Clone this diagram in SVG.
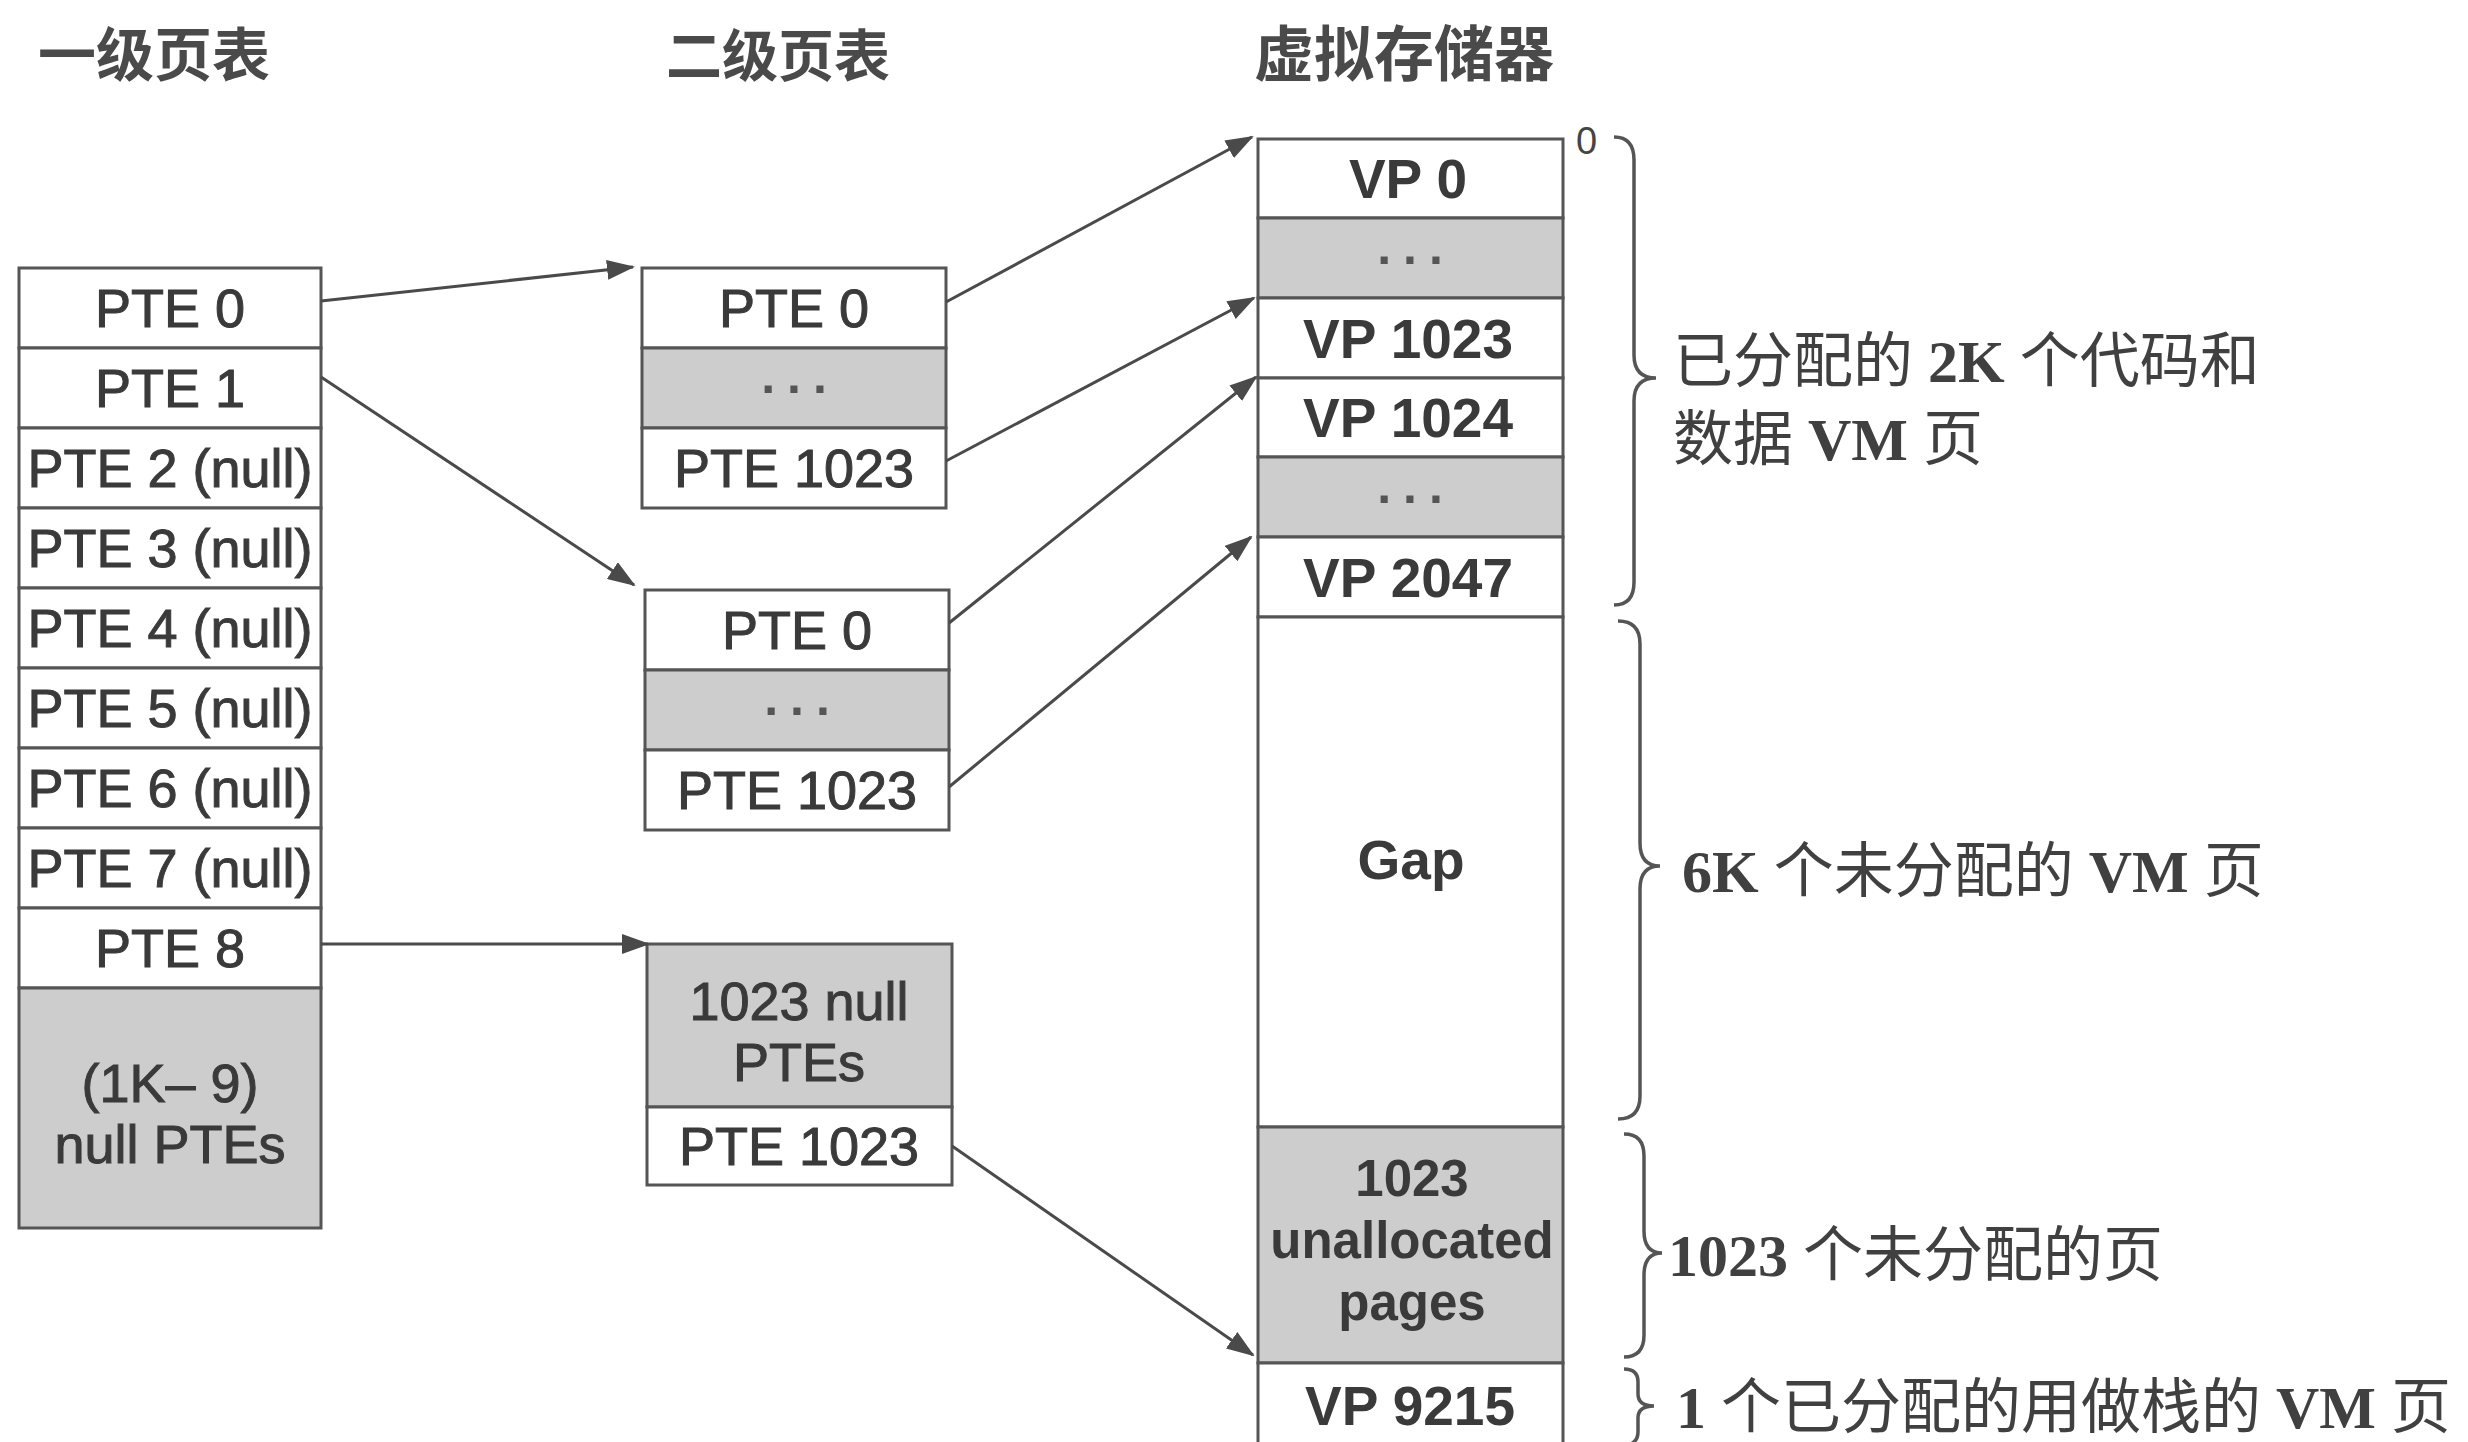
<svg xmlns="http://www.w3.org/2000/svg" width="2468" height="1442" viewBox="0 0 2468 1442">
<style>
  .cell { fill: #ffffff; stroke: #555555; stroke-width: 3; }
  .gray { fill: #cdcdcd; stroke: #555555; stroke-width: 3; }
  .pte { font-family: "Liberation Sans", Arial, sans-serif; font-size: 54px; fill: #3a3a3a; stroke: #3a3a3a; stroke-width: 1; text-anchor: middle; }
  .vp { font-family: "Liberation Sans", Arial, sans-serif; font-size: 55px; font-weight: bold; fill: #3a3a3a; text-anchor: middle; }
  .vps { font-size: 51px; }
  .dots { font-family: "Liberation Sans", Arial, sans-serif; font-size: 50px; font-weight: bold; fill: #555555; text-anchor: middle; letter-spacing: 12px; }
  .title { font-family: "Noto Sans CJK SC", sans-serif; font-weight: bold; fill: #4a4a4a; }
  .note { font-family: "Liberation Serif", "Noto Sans CJK SC", serif; font-size: 60px; fill: #404040; }
  .lat { font-weight: bold; }
  .addr { font-family: "Liberation Sans", Arial, sans-serif; font-size: 38px; fill: #444444; }
  .brace { fill: none; stroke: #555555; stroke-width: 3.5; }
  .conn { stroke: #4a4a4a; stroke-width: 3; fill: none; marker-end: url(#arrow); }
</style>
<defs>
  <marker id="arrow" markerUnits="userSpaceOnUse" markerWidth="28" markerHeight="20" refX="26" refY="10" orient="auto">
    <path d="M0,0 L28,10 L0,20 z" fill="#4a4a4a"/>
  </marker>
</defs>
<rect x="0" y="0" width="2468" height="1442" fill="#ffffff"/>

<g id="titles">
  <text class="title" x="38" y="76" style="font-size:58px">一级页表</text>
  <text class="title" x="666" y="76" style="font-size:56px">二级页表</text>
  <text class="title" x="1254" y="76" style="font-size:60px">虚拟存储器</text>
</g>

<g id="level1-table">
  <g id="l1-pte0"><rect class="cell" x="19" y="268" width="302" height="80"/><text class="pte" x="170" y="327">PTE 0</text></g>
  <g id="l1-pte1"><rect class="cell" x="19" y="348" width="302" height="80"/><text class="pte" x="170" y="407">PTE 1</text></g>
  <g id="l1-pte2"><rect class="cell" x="19" y="428" width="302" height="80"/><text class="pte" x="170" y="487">PTE 2 (null)</text></g>
  <g id="l1-pte3"><rect class="cell" x="19" y="508" width="302" height="80"/><text class="pte" x="170" y="567">PTE 3 (null)</text></g>
  <g id="l1-pte4"><rect class="cell" x="19" y="588" width="302" height="80"/><text class="pte" x="170" y="647">PTE 4 (null)</text></g>
  <g id="l1-pte5"><rect class="cell" x="19" y="668" width="302" height="80"/><text class="pte" x="170" y="727">PTE 5 (null)</text></g>
  <g id="l1-pte6"><rect class="cell" x="19" y="748" width="302" height="80"/><text class="pte" x="170" y="807">PTE 6 (null)</text></g>
  <g id="l1-pte7"><rect class="cell" x="19" y="828" width="302" height="80"/><text class="pte" x="170" y="887">PTE 7 (null)</text></g>
  <g id="l1-pte8"><rect class="cell" x="19" y="908" width="302" height="80"/><text class="pte" x="170" y="967">PTE 8</text></g>
  <g id="l1-null"><rect class="gray" x="19" y="988" width="302" height="240"/><text class="pte" x="170" y="1102">(1K– 9)</text><text class="pte" x="170" y="1163">null PTEs</text></g>
</g>

<g id="level2-table-a">
  <g id="l2a-pte0"><rect class="cell" x="642" y="268" width="304" height="80"/><text class="pte" x="794" y="327">PTE 0</text></g>
  <g id="l2a-dots"><rect class="gray" x="642" y="348" width="304" height="80"/><text class="dots" x="800" y="393">...</text></g>
  <g id="l2a-pte1023"><rect class="cell" x="642" y="428" width="304" height="80"/><text class="pte" x="794" y="487">PTE 1023</text></g>
</g>

<g id="level2-table-b">
  <g id="l2b-pte0"><rect class="cell" x="645" y="590" width="304" height="80"/><text class="pte" x="797" y="649">PTE 0</text></g>
  <g id="l2b-dots"><rect class="gray" x="645" y="670" width="304" height="80"/><text class="dots" x="803" y="715">...</text></g>
  <g id="l2b-pte1023"><rect class="cell" x="645" y="750" width="304" height="80"/><text class="pte" x="797" y="809">PTE 1023</text></g>
</g>

<g id="level2-table-c">
  <g id="l2c-null"><rect class="gray" x="647" y="944" width="305" height="163"/><text class="pte" x="799" y="1020">1023 null</text><text class="pte" x="799" y="1081">PTEs</text></g>
  <g id="l2c-pte1023"><rect class="cell" x="647" y="1107" width="305" height="78"/><text class="pte" x="799" y="1165">PTE 1023</text></g>
</g>

<g id="virtual-memory">
  <g id="vp0"><rect class="cell" x="1258" y="139" width="305" height="79"/><text class="vp" x="1408" y="198">VP 0</text></g>
  <g id="vm-dots1"><rect class="gray" x="1258" y="218" width="305" height="80"/><text class="dots" x="1416" y="264">...</text></g>
  <g id="vp1023"><rect class="cell" x="1258" y="298" width="305" height="80"/><text class="vp" x="1408" y="358">VP 1023</text></g>
  <g id="vp1024"><rect class="cell" x="1258" y="378" width="305" height="79"/><text class="vp" x="1408" y="437">VP 1024</text></g>
  <g id="vm-dots2"><rect class="gray" x="1258" y="457" width="305" height="80"/><text class="dots" x="1416" y="503">...</text></g>
  <g id="vp2047"><rect class="cell" x="1258" y="537" width="305" height="80"/><text class="vp" x="1408" y="597">VP 2047</text></g>
  <g id="gap"><rect class="cell" x="1258" y="617" width="305" height="510"/><text class="vp" x="1411" y="879">Gap</text></g>
  <g id="unallocated"><rect class="gray" x="1258" y="1127" width="305" height="236"/><text class="vp vps" x="1412" y="1196">1023</text><text class="vp vps" x="1412" y="1258">unallocated</text><text class="vp vps" x="1412" y="1320">pages</text></g>
  <g id="vp9215"><rect class="cell" x="1258" y="1363" width="305" height="84"/><text class="vp" x="1410" y="1425">VP 9215</text></g>
  <text id="addr0" class="addr" x="1576" y="154">0</text>
</g>

<g id="annotations">
  <g id="brace-code-data">
    <path class="brace" d="M1614,137 Q1634,137 1634,160 L1634,355 Q1634,378 1656,378 Q1634,378 1634,401 L1634,582 Q1634,605 1614,605"/>
    <text class="note" x="1673" y="382">已分配的 <tspan class="lat">2K</tspan> 个代码和</text>
    <text class="note" x="1673" y="460">数据 <tspan class="lat">VM</tspan> 页</text>
  </g>
  <g id="brace-gap">
    <path class="brace" d="M1618,621 Q1640,621 1640,644 L1640,843 Q1640,866 1660,866 Q1640,866 1640,889 L1640,1096 Q1640,1119 1618,1119"/>
    <text class="note" x="1682" y="892"><tspan class="lat">6K</tspan> 个未分配的 <tspan class="lat">VM</tspan> 页</text>
  </g>
  <g id="brace-unalloc">
    <path class="brace" d="M1624,1134 Q1644,1134 1644,1156 L1644,1231 Q1644,1253 1662,1253 Q1644,1253 1644,1275 L1644,1335 Q1644,1357 1624,1357"/>
    <text class="note" x="1668" y="1276"><tspan class="lat">1023</tspan> 个未分配的页</text>
  </g>
  <g id="brace-stack">
    <path class="brace" d="M1624,1369 Q1638,1369 1638,1382 L1638,1394 Q1638,1406 1654,1406 Q1638,1406 1638,1418 L1638,1432 Q1638,1444 1624,1446"/>
    <text class="note" x="1676" y="1428"><tspan class="lat">1</tspan> 个已分配的用做栈的 <tspan class="lat">VM</tspan> 页</text>
  </g>
</g>

<g id="connectors">
  <line class="conn" x1="321" y1="301" x2="633" y2="267"/>
  <line class="conn" x1="321" y1="377" x2="634" y2="585"/>
  <line class="conn" x1="321" y1="944" x2="648" y2="944"/>
  <line class="conn" x1="946" y1="302" x2="1252" y2="137"/>
  <line class="conn" x1="946" y1="461" x2="1254" y2="298"/>
  <line class="conn" x1="949" y1="623" x2="1256" y2="377"/>
  <line class="conn" x1="949" y1="787" x2="1251" y2="537"/>
  <line class="conn" x1="952" y1="1146" x2="1253" y2="1355"/>
</g>
</svg>
